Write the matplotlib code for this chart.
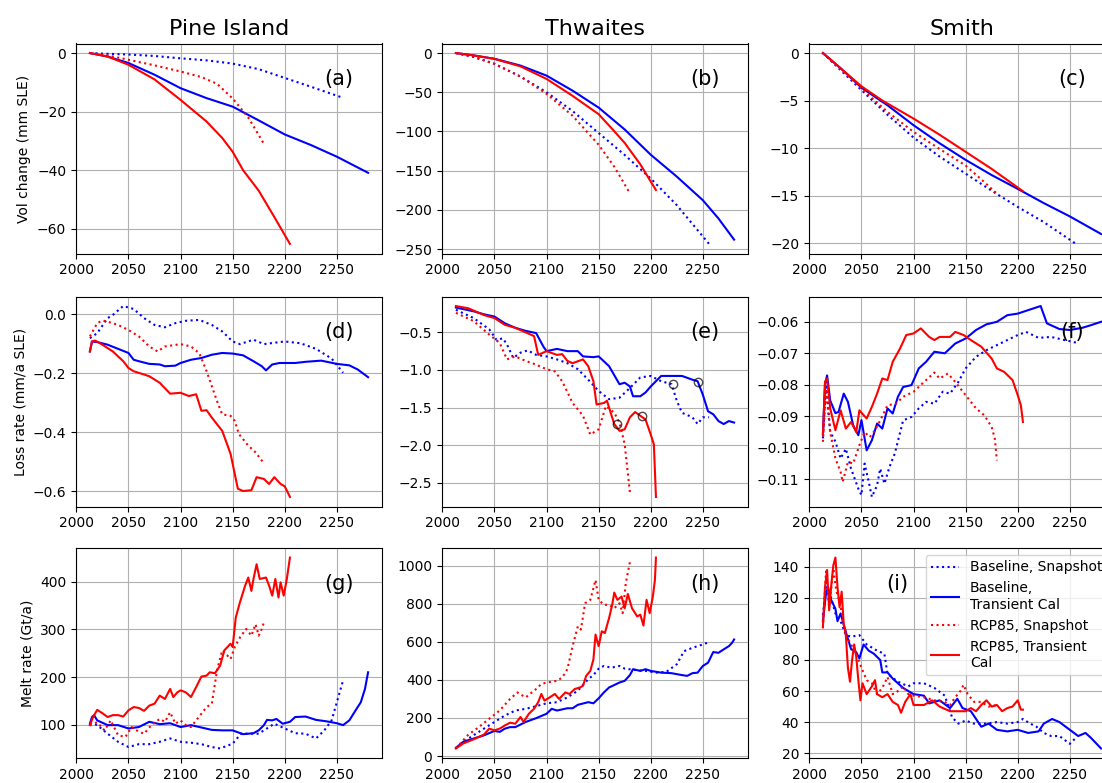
import matplotlib
matplotlib.use("Agg")
import matplotlib.pyplot as plt

# ---------------- data ----------------
# (a) Pine Island volume change (mm SLE)
pi_vol_bs_yr = [2013, 2025, 2050, 2075, 2100, 2125, 2150, 2175, 2200, 2225, 2256]
pi_vol_bs = [0, -0.2, -0.5, -1.0, -1.8, -2.5, -3.6, -5.5, -8.5, -11.5, -15.3]
pi_vol_bt_yr = [2013, 2030, 2050, 2075, 2100, 2125, 2150, 2175, 2200, 2225, 2250, 2280]
pi_vol_bt = [0, -1.2, -3.4, -7.4, -12.0, -15.4, -18.3, -23.0, -27.8, -31.4, -35.4, -40.9]
pi_vol_rs_yr = [2013, 2030, 2050, 2075, 2100, 2120, 2135, 2150, 2165, 2180]
pi_vol_rs = [0, -0.8, -2.3, -4.2, -6.3, -8.2, -10.5, -15.5, -22.0, -31.0]
pi_vol_rt_yr = [2013, 2030, 2050, 2075, 2100, 2125, 2140, 2150, 2160, 2175, 2190, 2205]
pi_vol_rt = [0, -1.2, -4.0, -9.0, -16.0, -23.4, -29.0, -33.7, -40.0, -47.0, -56.0, -65.2]

# (b) Thwaites volume change
th_vol_bs_yr = [2013, 2030, 2050, 2075, 2100, 2125, 2150, 2175, 2200, 2225, 2256]
th_vol_bs = [0, -5, -13.7, -30, -50, -74, -102, -130, -160, -194, -243.5]
th_vol_bt_yr = [2013, 2030, 2050, 2075, 2100, 2125, 2150, 2175, 2200, 2225, 2250, 2265, 2280]
th_vol_bt = [0, -3, -7.3, -16, -28.8, -48, -69.6, -97.5, -129.7, -157.6, -187.7, -211, -238]
th_vol_rs_yr = [2013, 2030, 2050, 2075, 2100, 2125, 2150, 2165, 2180]
th_vol_rs = [0, -5, -13.7, -30, -52, -80, -117, -145, -179]
th_vol_rt_yr = [2013, 2030, 2050, 2075, 2100, 2125, 2150, 2165, 2175, 2190, 2205]
th_vol_rt = [0, -3, -7.5, -17, -33, -54.6, -78, -99.7, -114.7, -142, -174.8]

# (c) Smith volume change
sm_vol_bs_yr = [2013, 2030, 2050, 2075, 2100, 2125, 2150, 2175, 2200, 2225, 2256]
sm_vol_bs = [0, -1.8, -3.9, -6.5, -8.9, -10.9, -12.7, -14.5, -16.2, -17.8, -20.1]
sm_vol_bt_yr = [2013, 2030, 2050, 2075, 2100, 2125, 2150, 2175, 2200, 2225, 2250, 2280]
sm_vol_bt = [0, -1.6, -3.65, -5.5, -7.6, -9.5, -11.25, -12.85, -14.3, -15.8, -17.2, -19.05]
sm_vol_rs_yr = [2013, 2030, 2050, 2075, 2100, 2125, 2150, 2165, 2180]
sm_vol_rs = [0, -1.7, -3.75, -6.2, -8.3, -10.1, -11.85, -13.3, -14.8]
sm_vol_rt_yr = [2013, 2030, 2050, 2070, 2100, 2125, 2150, 2175, 2205]
sm_vol_rt = [0, -1.6, -3.5, -5.0, -6.9, -8.6, -10.4, -12.2, -14.55]

# (d) Pine Island loss rate (mm/a SLE)
pi_loss_bs_yr = [2013, 2020, 2030, 2035, 2045, 2055, 2065, 2075, 2085, 2095, 2105, 2118, 2130, 2140,
                 2150, 2157, 2170, 2180, 2200, 2215, 2230, 2245, 2256]
pi_loss_bs = [-0.081, -0.064, -0.013, -0.002, 0.028, 0.018, -0.013, -0.036, -0.044, -0.030, -0.022,
              -0.019, -0.036, -0.058, -0.092, -0.101, -0.086, -0.101, -0.092, -0.098, -0.117, -0.150, -0.198]
pi_loss_bt_yr = [2013, 2015, 2020, 2030, 2040, 2050, 2055, 2060, 2070, 2080, 2085, 2095, 2100, 2110,
                 2120, 2130, 2140, 2150, 2160, 2170, 2178, 2182, 2188, 2195, 2210, 2220, 2235, 2250,
                 2262, 2270, 2280]
pi_loss_bt = [-0.126, -0.092, -0.094, -0.103, -0.117, -0.131, -0.154, -0.159, -0.168, -0.170, -0.176,
              -0.174, -0.165, -0.154, -0.148, -0.137, -0.131, -0.133, -0.139, -0.159, -0.176, -0.190,
              -0.170, -0.165, -0.165, -0.161, -0.157, -0.168, -0.173, -0.187, -0.213]
pi_loss_rs_yr = [2013, 2020, 2025, 2030, 2040, 2050, 2060, 2070, 2078, 2085, 2100, 2110, 2118, 2125,
                 2135, 2140, 2148, 2152, 2156, 2165, 2172, 2180]
pi_loss_rs = [-0.075, -0.030, -0.021, -0.025, -0.036, -0.053, -0.075, -0.109, -0.126, -0.109, -0.101,
              -0.109, -0.132, -0.193, -0.294, -0.339, -0.344, -0.361, -0.406, -0.445, -0.468, -0.505]
pi_loss_rt_yr = [2013, 2015, 2018, 2025, 2035, 2045, 2050, 2055, 2065, 2070, 2080, 2090, 2100, 2108,
                 2115, 2120, 2125, 2130, 2140, 2148, 2155, 2160, 2168, 2173, 2180, 2185, 2190, 2196,
                 2200, 2205]
pi_loss_rt = [-0.126, -0.092, -0.089, -0.103, -0.126, -0.159, -0.182, -0.193, -0.204, -0.210, -0.232,
              -0.269, -0.266, -0.277, -0.271, -0.327, -0.325, -0.350, -0.395, -0.473, -0.591, -0.599,
              -0.596, -0.552, -0.558, -0.575, -0.552, -0.575, -0.583, -0.619]

# (e) Thwaites loss rate
th_loss_bs_yr = [2013, 2030, 2045, 2052, 2058, 2062, 2068, 2075, 2082, 2090, 2100, 2110, 2120, 2130,
                 2140, 2150, 2160, 2170, 2180, 2190, 2200, 2210, 2220, 2225, 2230, 2240, 2245, 2250, 2256]
th_loss_bs = [-0.20, -0.31, -0.46, -0.60, -0.58, -0.66, -0.84, -0.77, -0.74, -0.80, -0.82, -0.86, -0.91,
              -0.99, -1.13, -1.28, -1.39, -1.37, -1.24, -1.10, -1.08, -1.15, -1.19, -1.41, -1.57, -1.63,
              -1.72, -1.63, -1.63]
th_loss_bt_yr = [2013, 2030, 2040, 2050, 2060, 2070, 2080, 2090, 2097, 2100, 2110, 2120, 2130, 2135,
                 2145, 2150, 2160, 2170, 2175, 2180, 2183, 2190, 2195, 2200, 2210, 2220, 2230, 2240,
                 2245, 2250, 2255, 2260, 2265, 2270, 2275, 2280]
th_loss_bt = [-0.17, -0.22, -0.26, -0.29, -0.38, -0.44, -0.48, -0.51, -0.69, -0.75, -0.72, -0.75, -0.75,
              -0.82, -0.83, -0.82, -0.95, -1.19, -1.17, -1.22, -1.35, -1.35, -1.30, -1.22, -1.08, -1.08,
              -1.08, -1.13, -1.15, -1.33, -1.55, -1.59, -1.68, -1.72, -1.68, -1.70]
th_loss_rs_yr = [2013, 2030, 2045, 2055, 2062, 2070, 2080, 2090, 2100, 2108, 2115, 2125, 2135, 2142,
                 2150, 2157, 2165, 2170, 2175, 2180]
th_loss_rs = [-0.24, -0.35, -0.53, -0.64, -0.86, -0.82, -0.88, -0.93, -0.99, -1.02, -1.15, -1.44, -1.61,
              -1.86, -1.79, -1.48, -1.57, -1.70, -1.99, -2.63]
th_loss_rt_yr = [2013, 2025, 2040, 2050, 2060, 2070, 2080, 2088, 2092, 2100, 2110, 2115, 2120, 2125,
                 2135, 2140, 2145, 2148, 2155, 2158, 2162, 2165, 2170, 2175, 2180, 2185, 2190, 2195,
                 2200, 2203, 2205]
th_loss_rt = [-0.15, -0.18, -0.27, -0.31, -0.40, -0.44, -0.50, -0.55, -0.80, -0.75, -0.80, -0.79, -0.88,
              -0.91, -0.86, -0.95, -1.15, -1.46, -1.44, -1.41, -1.59, -1.72, -1.81, -1.79, -1.63, -1.56,
              -1.61, -1.66, -1.86, -1.99, -2.69]
th_mark_yr = [2168, 2192, 2221, 2245]
th_mark = [-1.72, -1.61, -1.19, -1.16]

# (f) Smith loss rate
sm_loss_bs_yr = [2013, 2016, 2020, 2025, 2030, 2035, 2040, 2047, 2050, 2053, 2057, 2060, 2065, 2068,
                 2072, 2077, 2082, 2090, 2098, 2105, 2112, 2120, 2128, 2135, 2143, 2150, 2160, 2170,
                 2180, 2190, 2200, 2208, 2220, 2232, 2245, 2256]
sm_loss_bs = [-0.0970, -0.0790, -0.0950, -0.0980, -0.1034, -0.1003, -0.1066, -0.1130, -0.1150, -0.1050,
              -0.1108, -0.1156, -0.1119, -0.1066, -0.1114, -0.1060, -0.1018, -0.0913, -0.0902, -0.0875,
              -0.0854, -0.0860, -0.0822, -0.0828, -0.0791, -0.0748, -0.0711, -0.0690, -0.0674, -0.0658,
              -0.0642, -0.0632, -0.0651, -0.0648, -0.0658, -0.0666]
sm_loss_bt_yr = [2013, 2015, 2017, 2020, 2025, 2028, 2033, 2037, 2042, 2047, 2050, 2055, 2060, 2065,
                 2070, 2075, 2080, 2085, 2090, 2098, 2105, 2112, 2120, 2130, 2140, 2150, 2160, 2170,
                 2180, 2190, 2200, 2210, 2222, 2228, 2240, 2250, 2262, 2270, 2280]
sm_loss_bt = [-0.0955, -0.0800, -0.0770, -0.0850, -0.0890, -0.0886, -0.0828, -0.0854, -0.0928, -0.0960,
              -0.0912, -0.1008, -0.0976, -0.0923, -0.0939, -0.0875, -0.0891, -0.0838, -0.0807, -0.0801,
              -0.0748, -0.0727, -0.0695, -0.0700, -0.0669, -0.0653, -0.0626, -0.0608, -0.0600, -0.0579,
              -0.0574, -0.0563, -0.0550, -0.0605, -0.0623, -0.0626, -0.0619, -0.0611, -0.0600]
sm_loss_rs_yr = [2013, 2016, 2020, 2025, 2030, 2032, 2037, 2042, 2048, 2053, 2058, 2063, 2068, 2075,
                 2083, 2090, 2100, 2110, 2120, 2125, 2133, 2140, 2150, 2160, 2168, 2175, 2178, 2180]
sm_loss_rs = [-0.0981, -0.0812, -0.0950, -0.1034, -0.1077, -0.1108, -0.1045, -0.1050, -0.0992, -0.0950,
              -0.0966, -0.0944, -0.0913, -0.0865, -0.0860, -0.0838, -0.0822, -0.0791, -0.0761, -0.0780,
              -0.0764, -0.0791, -0.0833, -0.0875, -0.0897, -0.0934, -0.0971, -0.1040]
sm_loss_rt_yr = [2013, 2015, 2017, 2020, 2025, 2030, 2035, 2040, 2045, 2048, 2055, 2060, 2065, 2070,
                 2075, 2080, 2087, 2093, 2100, 2107, 2115, 2120, 2125, 2135, 2140, 2148, 2155, 2165,
                 2175, 2180, 2187, 2195, 2200, 2203, 2205]
sm_loss_rt = [-0.0960, -0.0790, -0.0780, -0.0875, -0.0944, -0.0881, -0.0939, -0.0918, -0.0950, -0.0881,
              -0.0907, -0.0870, -0.0828, -0.0780, -0.0785, -0.0727, -0.0685, -0.0642, -0.0637, -0.0621,
              -0.0648, -0.0658, -0.0648, -0.0648, -0.0632, -0.0642, -0.0658, -0.0679, -0.0717, -0.0748,
              -0.0759, -0.0785, -0.0833, -0.0865, -0.0918]

# (g) Pine Island melt rate (Gt/a)
pi_melt_bs_yr = [2013, 2020, 2030, 2040, 2050, 2060, 2070, 2080, 2090, 2100, 2110, 2120, 2130, 2138,
                 2150, 2158, 2165, 2175, 2185, 2190, 2200, 2210, 2220, 2230, 2238, 2245, 2250, 2256]
pi_melt_bs = [105, 99, 81, 64, 53, 59, 59, 64, 71, 64, 62, 59, 53, 50, 60, 81, 81, 81, 95, 102, 92, 82,
              81, 71, 88, 109, 147, 193]
pi_melt_bt_yr = [2013, 2015, 2017, 2020, 2030, 2040, 2050, 2060, 2070, 2080, 2090, 2100, 2110, 2120,
                 2130, 2140, 2150, 2160, 2170, 2175, 2180, 2183, 2188, 2192, 2198, 2205, 2210, 2220,
                 2230, 2240, 2250, 2256, 2262, 2268, 2273, 2277, 2280]
pi_melt_bt = [102, 116, 120, 109, 99, 99, 92, 95, 106, 101, 103, 95, 99, 94, 89, 88, 88, 80, 82, 88, 99,
              110, 109, 112, 102, 106, 116, 117, 110, 107, 103, 99, 109, 130, 147, 175, 210]
pi_melt_rs_yr = [2013, 2020, 2027, 2033, 2040, 2047, 2053, 2060, 2065, 2072, 2080, 2085, 2090, 2095,
                 2100, 2105, 2110, 2115, 2120, 2125, 2130, 2135, 2140, 2145, 2148, 2152, 2157, 2163,
                 2168, 2172, 2175, 2178, 2180]
pi_melt_rs = [99, 105, 88, 109, 78, 74, 95, 85, 81, 99, 112, 106, 126, 102, 109, 99, 95, 109, 123, 137,
              144, 214, 256, 245, 238, 263, 283, 301, 287, 311, 287, 301, 315]
pi_melt_rt_yr = [2013, 2016, 2020, 2025, 2030, 2035, 2040, 2045, 2050, 2055, 2060, 2065, 2070, 2075,
                 2080, 2085, 2090, 2093, 2097, 2100, 2105, 2110, 2115, 2120, 2125, 2128, 2133, 2138,
                 2142, 2148, 2150, 2153, 2157, 2162, 2165, 2168, 2170, 2173, 2176, 2182, 2185, 2188,
                 2191, 2194, 2196, 2199, 2202, 2205]
pi_melt_rt = [99, 116, 131, 124, 116, 120, 120, 117, 130, 137, 135, 129, 140, 144, 161, 154, 175, 158,
              168, 172, 168, 158, 179, 201, 203, 210, 208, 224, 256, 270, 263, 325, 357, 392, 409, 381,
              406, 437, 406, 409, 392, 371, 406, 367, 399, 371, 406, 451]

# (h) Thwaites melt rate
th_melt_bs_yr = [2013, 2025, 2035, 2050, 2060, 2070, 2080, 2090, 2100, 2110, 2120, 2130, 2140, 2145,
                 2150, 2155, 2162, 2170, 2175, 2185, 2195, 2205, 2215, 2225, 2232, 2240, 2250, 2256]
th_melt_bs = [43, 92, 127, 179, 213, 239, 248, 262, 277, 283, 308, 343, 404, 425, 459, 473, 464, 473,
              459, 452, 447, 438, 442, 482, 551, 568, 586, 598]
th_melt_bt_yr = [2013, 2020, 2030, 2040, 2050, 2055, 2060, 2065, 2070, 2080, 2090, 2100, 2105, 2110,
                 2120, 2125, 2130, 2140, 2145, 2150, 2155, 2160, 2170, 2175, 2180, 2183, 2190, 2195,
                 2200, 2210, 2220, 2230, 2235, 2240, 2245, 2250, 2255, 2260, 2265, 2270, 2275, 2278, 2280]
th_melt_bt = [43, 75, 92, 109, 132, 127, 144, 152, 152, 179, 199, 222, 248, 239, 251, 251, 269, 283, 277,
              303, 334, 360, 386, 395, 425, 456, 447, 456, 447, 438, 435, 425, 421, 435, 438, 473, 490,
              546, 542, 560, 577, 594, 612]
th_melt_rs_yr = [2013, 2020, 2025, 2035, 2045, 2055, 2065, 2072, 2080, 2090, 2095, 2100, 2110, 2115,
                 2120, 2125, 2130, 2133, 2137, 2142, 2147, 2150, 2155, 2160, 2165, 2170, 2173, 2176, 2180]
th_melt_rs = [40, 83, 113, 152, 196, 239, 300, 334, 308, 352, 378, 386, 395, 412, 456, 577, 681, 664,
              802, 820, 924, 820, 794, 794, 776, 802, 750, 906, 1019]
th_melt_rt_yr = [2013, 2020, 2030, 2040, 2045, 2050, 2055, 2060, 2065, 2070, 2075, 2078, 2083, 2088,
                 2092, 2095, 2098, 2103, 2108, 2112, 2118, 2122, 2127, 2132, 2135, 2138, 2142, 2145,
                 2147, 2150, 2153, 2156, 2160, 2163, 2165, 2168, 2172, 2175, 2178, 2182, 2187, 2190,
                 2193, 2196, 2199, 2202, 2204, 2205]
th_melt_rt = [40, 66, 88, 113, 144, 135, 144, 161, 175, 170, 205, 179, 222, 248, 283, 326, 291, 308, 326,
              300, 334, 326, 352, 360, 369, 421, 447, 508, 638, 577, 655, 646, 724, 794, 858, 820, 837,
              776, 851, 776, 733, 742, 685, 820, 750, 837, 924, 1042]

# (i) Smith melt rate
sm_melt_bs_yr = [2013, 2016, 2020, 2025, 2030, 2035, 2040, 2048, 2055, 2065, 2072, 2075, 2085, 2095,
                 2100, 2110, 2120, 2130, 2137, 2143, 2150, 2158, 2170, 2180, 2190, 2200, 2205, 2212,
                 2218, 2225, 2232, 2240, 2250, 2256]
sm_melt_bs = [109, 127, 122, 110, 105, 96, 95, 96, 90, 86, 84, 71, 66, 63, 65, 65, 62, 57, 43, 39, 41, 39,
              39, 40, 39, 40, 42, 39, 37, 33, 31, 31, 26, 30]
sm_melt_bt_yr = [2013, 2016, 2018, 2020, 2025, 2027, 2030, 2035, 2040, 2045, 2048, 2052, 2057, 2062,
                 2068, 2070, 2075, 2080, 2090, 2095, 2100, 2110, 2115, 2125, 2135, 2142, 2147, 2155,
                 2165, 2172, 2180, 2190, 2200, 2210, 2220, 2225, 2233, 2240, 2250, 2258, 2265, 2270, 2280]
sm_melt_bt = [105, 123, 127, 120, 113, 105, 110, 98, 87, 85, 81, 90, 86, 84, 80, 72, 72, 68, 62, 60, 58,
              57, 52, 54, 49, 55, 49, 47, 37, 39, 35, 34, 35, 33, 34, 39, 42, 40, 35, 31, 33, 30, 23]
sm_melt_rs_yr = [2013, 2016, 2019, 2023, 2026, 2029, 2033, 2036, 2040, 2045, 2050, 2055, 2060, 2065,
                 2070, 2075, 2080, 2085, 2090, 2095, 2100, 2110, 2120, 2130, 2135, 2140, 2145, 2148,
                 2152, 2158, 2165, 2172, 2180]
sm_melt_rs = [101, 137, 114, 139, 124, 118, 103, 95, 90, 84, 75, 67, 65, 58, 62, 69, 58, 60, 63, 58, 57,
              56, 54, 53, 51, 56, 60, 64, 58, 53, 53, 50, 51]
sm_melt_rt_yr = [2013, 2015, 2017, 2019, 2021, 2023, 2025, 2027, 2029, 2031, 2033, 2035, 2037, 2039,
                 2041, 2043, 2045, 2047, 2049, 2051, 2055, 2060, 2063, 2065, 2070, 2075, 2080, 2085,
                 2088, 2092, 2097, 2100, 2110, 2118, 2125, 2135, 2140, 2150, 2155, 2160, 2165, 2170,
                 2175, 2180, 2185, 2190, 2195, 2200, 2203, 2205]
sm_melt_rt = [101, 127, 138, 112, 128, 141, 146, 127, 114, 124, 103, 96, 75, 66, 80, 90, 82, 67, 54, 65,
              58, 63, 67, 58, 56, 58, 53, 51, 46, 53, 58, 51, 51, 54, 50, 47, 47, 47, 49, 47, 51, 54,
              50, 51, 47, 49, 50, 54, 48, 48]

titles = ["Pine Island", "Thwaites", "Smith"]
ylabels = ["Vol change (mm SLE)", "Loss rate (mm/a SLE)", "Melt rate (Gt/a)"]
panel_labels = ["(a)", "(b)", "(c)", "(d)", "(e)", "(f)", "(g)", "(h)", "(i)"]
legend_labels = ["Baseline, Snapshot", "Baseline,\nTransient Cal",
                 "RCP85, Snapshot", "RCP85, Transient\nCal"]

panels = [
    [(pi_vol_bs_yr, pi_vol_bs), (pi_vol_bt_yr, pi_vol_bt), (pi_vol_rs_yr, pi_vol_rs), (pi_vol_rt_yr, pi_vol_rt)],
    [(th_vol_bs_yr, th_vol_bs), (th_vol_bt_yr, th_vol_bt), (th_vol_rs_yr, th_vol_rs), (th_vol_rt_yr, th_vol_rt)],
    [(sm_vol_bs_yr, sm_vol_bs), (sm_vol_bt_yr, sm_vol_bt), (sm_vol_rs_yr, sm_vol_rs), (sm_vol_rt_yr, sm_vol_rt)],
    [(pi_loss_bs_yr, pi_loss_bs), (pi_loss_bt_yr, pi_loss_bt), (pi_loss_rs_yr, pi_loss_rs), (pi_loss_rt_yr, pi_loss_rt)],
    [(th_loss_bs_yr, th_loss_bs), (th_loss_bt_yr, th_loss_bt), (th_loss_rs_yr, th_loss_rs), (th_loss_rt_yr, th_loss_rt)],
    [(sm_loss_bs_yr, sm_loss_bs), (sm_loss_bt_yr, sm_loss_bt), (sm_loss_rs_yr, sm_loss_rs), (sm_loss_rt_yr, sm_loss_rt)],
    [(pi_melt_bs_yr, pi_melt_bs), (pi_melt_bt_yr, pi_melt_bt), (pi_melt_rs_yr, pi_melt_rs), (pi_melt_rt_yr, pi_melt_rt)],
    [(th_melt_bs_yr, th_melt_bs), (th_melt_bt_yr, th_melt_bt), (th_melt_rs_yr, th_melt_rs), (th_melt_rt_yr, th_melt_rt)],
    [(sm_melt_bs_yr, sm_melt_bs), (sm_melt_bt_yr, sm_melt_bt), (sm_melt_rs_yr, sm_melt_rs), (sm_melt_rt_yr, sm_melt_rt)],
]
styles = [("b", ":"), ("b", "-"), ("r", ":"), ("r", "-")]

# ---------------- figure ----------------
W, H = 1102, 783
fig = plt.figure(figsize=(W / 100, H / 100), dpi=100)

col_left = [76, 442, 809]
row_top = [43.5, 296.5, 548]
ax_w, ax_h = 306, 210

for k in range(9):
    r, c = divmod(k, 3)
    ax = fig.add_axes([col_left[c] / W, 1 - (row_top[r] + ax_h) / H, ax_w / W, ax_h / H])
    for (yr, val), (col, ls), lab in zip(panels[k], styles, legend_labels):
        ax.plot(yr, val, color=col, linestyle=ls, linewidth=1.5, label=lab)
    if k == 4:
        ax.plot(th_mark_yr, th_mark, "o", mfc="none", mec="k", mew=1.0, ms=6, alpha=0.7)
    ax.grid(True)
    lx = 0.29 if k == 8 else 0.86
    ax.text(lx, 0.83, panel_labels[k], transform=ax.transAxes, fontsize=15,
            ha="center", va="center")
    if r == 0:
        ax.set_title(titles[c], fontsize=16)
    if c == 0:
        ax.set_ylabel(ylabels[r])
    if k == 8:
        ax.legend(loc="upper right")

fig.savefig("out.png", dpi=100)
